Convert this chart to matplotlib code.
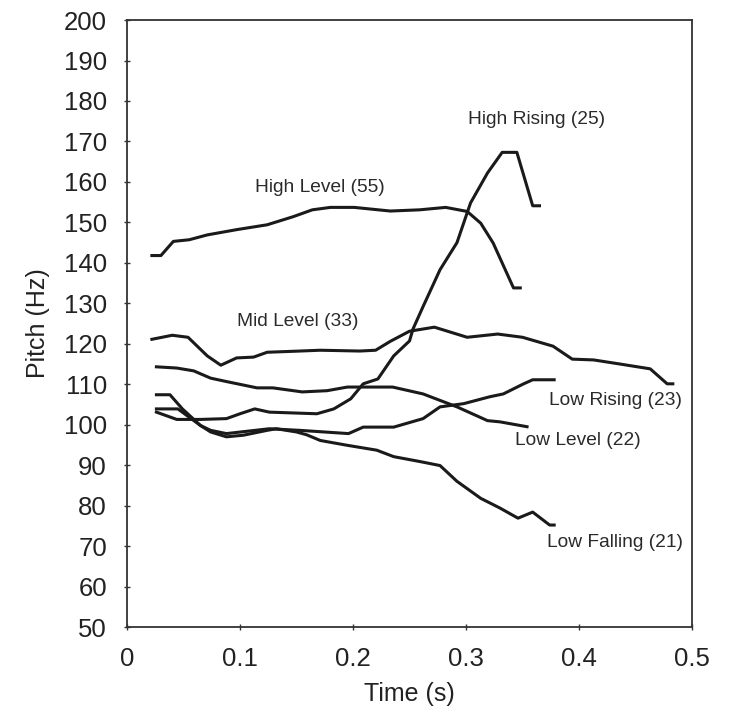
import matplotlib
matplotlib.use("Agg")
import matplotlib.pyplot as plt

plt.rcParams['font.family'] = ['Liberation Sans', 'DejaVu Sans']

# pitch contours, time (s) / pitch (Hz)
high_level_t = [0.022, 0.030, 0.041, 0.055, 0.071, 0.097, 0.124, 0.147, 0.164, 0.180, 0.201, 0.233, 0.259, 0.282, 0.301, 0.313, 0.324, 0.342, 0.348]
high_level_p = [141.8, 141.8, 145.3, 145.7, 146.9, 148.2, 149.4, 151.4, 153.1, 153.7, 153.7, 152.8, 153.1, 153.7, 152.7, 149.8, 144.9, 133.8, 133.8]

high_rising_t = [0.026, 0.044, 0.065, 0.088, 0.100, 0.113, 0.126, 0.168, 0.183, 0.198, 0.209, 0.222, 0.236, 0.250, 0.253, 0.262, 0.277, 0.292, 0.304, 0.319, 0.332, 0.345, 0.359, 0.365]
high_rising_p = [103.1, 101.3, 101.3, 101.5, 102.7, 103.9, 103.1, 102.7, 103.9, 106.4, 110.1, 111.3, 117.0, 120.7, 123.6, 129.2, 138.3, 145.0, 154.8, 162.2, 167.3, 167.3, 154.1, 154.1]

mid_level_t = [0.022, 0.040, 0.054, 0.071, 0.083, 0.097, 0.112, 0.124, 0.153, 0.171, 0.206, 0.220, 0.233, 0.250, 0.272, 0.301, 0.328, 0.350, 0.377, 0.394, 0.413, 0.436, 0.463, 0.478, 0.483]
mid_level_p = [121.1, 122.1, 121.6, 117.0, 114.7, 116.5, 116.7, 117.9, 118.2, 118.4, 118.2, 118.4, 120.6, 123.1, 124.1, 121.6, 122.4, 121.6, 119.4, 116.2, 116.0, 115.0, 113.8, 110.1, 110.1]

low_rising_t = [0.026, 0.045, 0.065, 0.074, 0.088, 0.126, 0.153, 0.196, 0.209, 0.236, 0.262, 0.277, 0.298, 0.321, 0.333, 0.351, 0.359, 0.378]
low_rising_p = [103.9, 103.9, 99.8, 98.6, 97.8, 99.0, 98.6, 97.8, 99.4, 99.4, 101.5, 104.4, 105.2, 106.9, 107.6, 110.1, 111.1, 111.1]

low_level_t = [0.026, 0.044, 0.059, 0.074, 0.089, 0.115, 0.129, 0.155, 0.177, 0.195, 0.235, 0.262, 0.292, 0.319, 0.330, 0.354]
low_level_p = [114.3, 114.0, 113.3, 111.5, 110.6, 109.1, 109.1, 108.1, 108.4, 109.3, 109.3, 107.6, 104.4, 101.0, 100.7, 99.5]

low_falling_t = [0.026, 0.038, 0.049, 0.065, 0.074, 0.088, 0.103, 0.124, 0.132, 0.150, 0.159, 0.171, 0.195, 0.221, 0.236, 0.259, 0.277, 0.292, 0.313, 0.330, 0.346, 0.359, 0.374, 0.378]
low_falling_p = [107.4, 107.4, 103.9, 99.8, 98.2, 97.0, 97.4, 98.6, 99.0, 98.2, 97.5, 96.1, 94.9, 93.7, 92.1, 90.9, 89.9, 86.0, 81.8, 79.4, 76.9, 78.4, 75.2, 75.2]

labels = ["High Level (55)", "High Rising (25)", "Mid Level (33)",
          "Low Rising (23)", "Low Level (22)", "Low Falling (21)"]
label_pos = [(0.171, 158.5), (0.362, 175.3), (0.151, 125.6),
             (0.432, 106.0), (0.399, 96.2), (0.432, 70.9)]

fig = plt.figure(figsize=(7.33, 7.13), dpi=100)
ax = fig.add_axes([0.1733, 0.1206, 0.7708, 0.8513])

curves = [(high_level_t, high_level_p), (high_rising_t, high_rising_p),
          (mid_level_t, mid_level_p), (low_rising_t, low_rising_p),
          (low_level_t, low_level_p), (low_falling_t, low_falling_p)]
for t, p in curves:
    ax.plot(t, p, color="#1a1a1a", lw=2.2, solid_joinstyle="round")

for lab, (x, y) in zip(labels, label_pos):
    ax.text(x, y, lab, ha="center", va="center", fontsize=13.8, color="#2a2a2a")

ax.set_xlim(0, 0.5)
ax.set_ylim(50, 200)
ax.set_xticks([0, 0.1, 0.2, 0.3, 0.4, 0.5])
ax.set_xticklabels(["0", "0.1", "0.2", "0.3", "0.4", "0.5"])
ax.set_yticks(range(50, 201, 10))
ax.tick_params(direction="inout", length=5, width=1, labelsize=18.5, colors="#333333", labelcolor="#222222")
ax.tick_params(axis="x", pad=12)
ax.tick_params(axis="y", pad=12)
for s in ax.spines.values():
    s.set_color("#333333")
    s.set_linewidth(1.3)

ax.set_xlabel("Time (s)", fontsize=18, color="#222222", labelpad=8)
ax.set_ylabel("Pitch (Hz)", fontsize=18, color="#222222", labelpad=10)

fig.savefig("out.png", dpi=100)
